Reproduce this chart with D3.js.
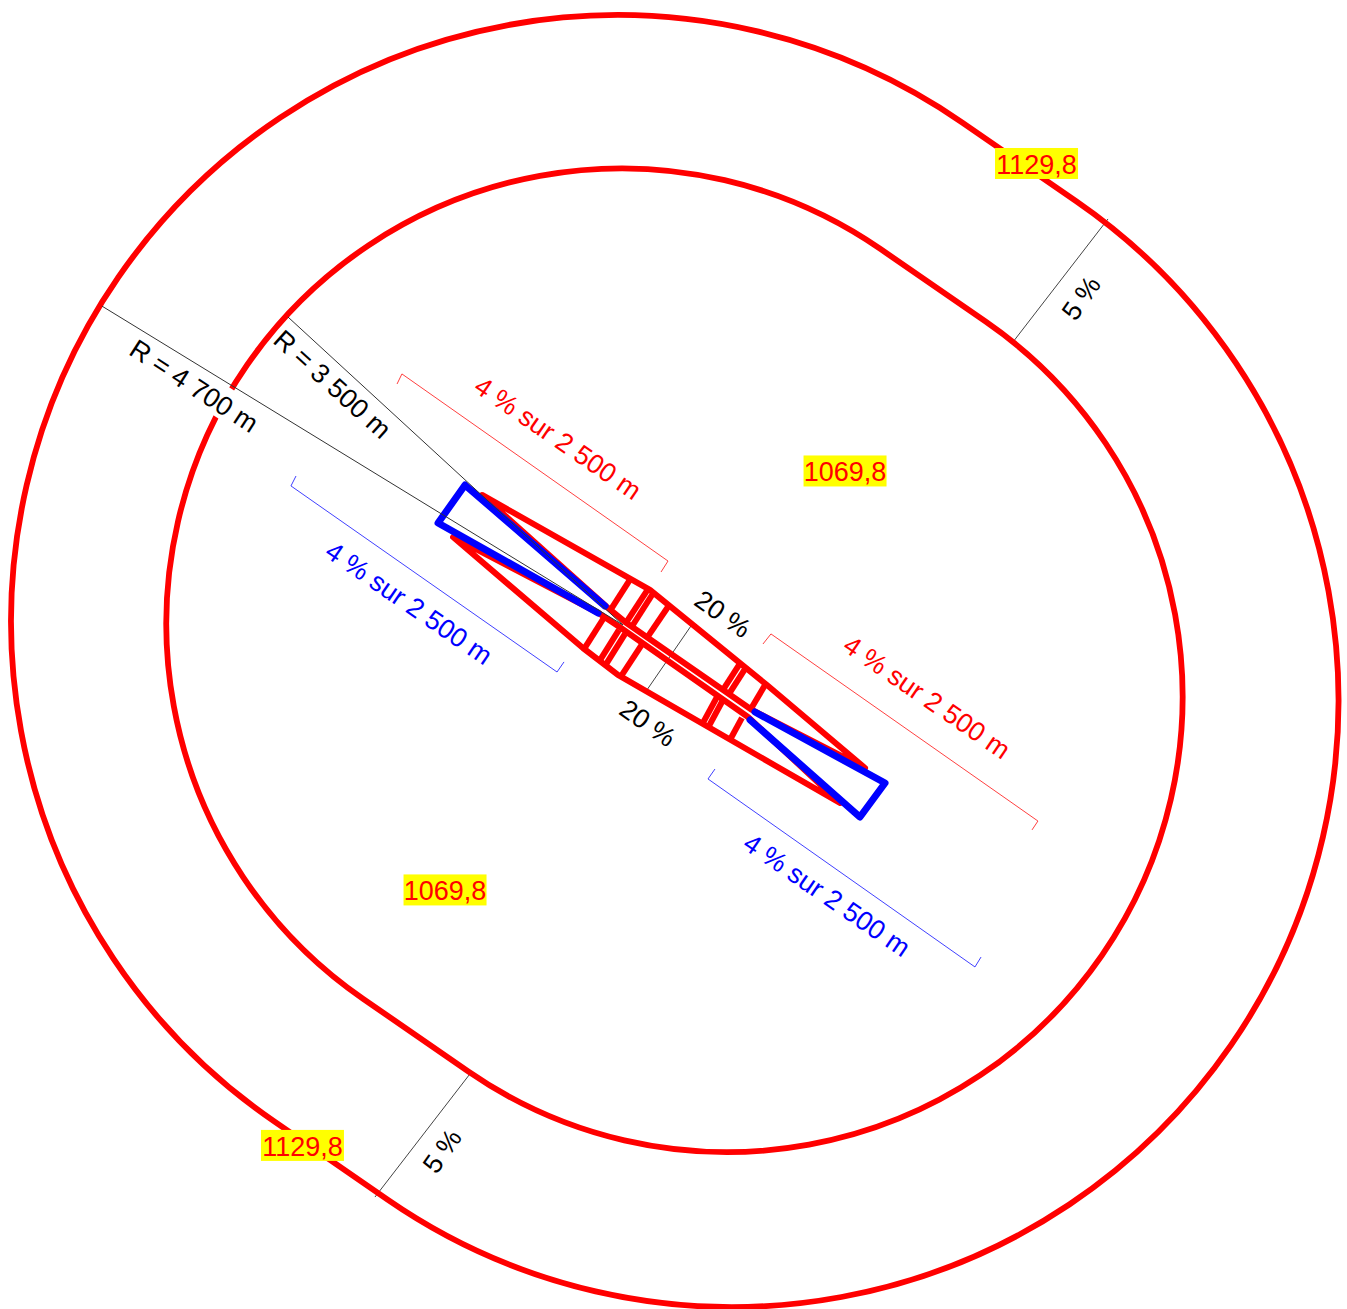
<!DOCTYPE html>
<html>
<head>
<meta charset="utf-8">
<script src="https://cdnjs.cloudflare.com/ajax/libs/d3/7.8.5/d3.min.js"></script>
<style>
html, body { margin: 0; padding: 0; background: #fff; }
svg { display: block; }
text { font-family: "Liberation Sans", Arial, sans-serif; }
</style>
</head>
<body>
<div id="chart"></div>
<script>
// everything is in plan metres, measured from the top left corner of the drawing
const radii = [4700, 3530];
const outerCentres = [[4786, 4817], [5673, 5429]];
const innerCentres = [[4820, 4836], [5634, 5398]];

const redUpper = [[3736, 3836], [5037, 4572], [5944, 5309], [6704, 5952], [5828, 5502], [4844, 4820], [4704, 4704]];
const redLower = [[3511, 4162], [4518, 5022], [4789, 5231], [6510, 6223], [5797, 5557], [4813, 4867], [4650, 4758]];
const redBars = [
    [[4890, 4480], [4727, 4735]],
    [[5022, 4565], [4851, 4828]],
    [[5068, 4588], [4890, 4867]],
    [[5192, 4681], [5014, 4944]],
    [[5743, 5130], [5603, 5347]],
    [[5789, 5161], [5650, 5378]],
    [[5929, 5309], [5828, 5479]],
    [[4689, 4774], [4526, 5030]],
    [[4797, 4882], [4642, 5130]],
    [[4844, 4913], [4689, 5161]],
    [[4983, 4983], [4805, 5254]],
    [[5561, 5394], [5452, 5595]],
    [[5603, 5425], [5495, 5626]],
    [[5750, 5564], [5657, 5735]]
];
const blueLeft = [[4689, 4697], [3604, 3759], [3395, 4053], [4635, 4751]];
const blueRight = [[5851, 5518], [6859, 6068], [6665, 6332], [5813, 5580]];

const radiusLines = [
    [[790, 2372], [4828, 4844]],
    [[2232, 2457], [4828, 4844]]
];
const slopeLines = [
    [[8587, 1697], [7851, 2650]],
    [[3642, 8323], [2906, 9277]],
    [[5371, 4828], [5014, 5347]]
];
const redBrackets = [
    [[3077, 2976], [3115, 2898], [5177, 4348], [5123, 4433]],
    [[5913, 4991], [5975, 4913], [8044, 6363], [7998, 6432]]
];
const blueBrackets = [
    [[2294, 3689], [2255, 3766], [4317, 5208], [4371, 5130]],
    [[5541, 5960], [5487, 6037], [7556, 7494], [7603, 7417]]
];

const levels = ["1129,8", "1129,8", "1069,8", "1069,8"];
const levelAt = [[8033, 1267], [2344, 8877], [6549, 3650], [3449, 6897]];

const slopeLabel = "4 % sur 2 500 m";
const redSlopeAt = [[4325, 3394, 34.5], [7184, 5402, 34.5]];
const blueSlopeAt = [[3170, 4673, 34.5], [6409, 6936, 34.5]];

const radiusLabels = ["R = 4 700 m", "R = 3 500 m"];
const radiusAt = [[1504, 2991, 33], [2577, 2976, 42]];
const blackLabels = ["5 %", "5 %", "20 %", "20 %"];
const blackAt = [
    [8378, 2309, -55],
    [3425, 8920, -55],
    [5603, 4758, 35],
    [5022, 5603, 35]
];

const W = 1347, H = 1309;
const x = d3.scaleLinear().domain([0, 10439.25]).range([0, W]);
const y = d3.scaleLinear().domain([0, 10144.75]).range([0, H]);
const line = d3.line().x(d => x(d[0])).y(d => y(d[1]));
const RED = "#ff0000", BLUE = "#0000ff";

const svg = d3.select("#chart").append("svg")
    .attr("width", W)
    .attr("height", H)
    .attr("viewBox", [0, 0, W, H]);

function place(at) {
    return "translate(" + x(at[0]) + "," + y(at[1]) + ") rotate(" + at[2] + ")";
}

// stadium shaped contour: two half circles joined by straight runs
function contour(r, centres) {
    const rPx = x(r) - x(0);
    const [a, b] = centres;
    const ang = Math.atan2(y(b[1]) - y(a[1]), x(b[0]) - x(a[0]));
    const p = d3.path();
    p.arc(x(a[0]), y(a[1]), rPx, ang + Math.PI / 2, ang - Math.PI / 2);
    p.arc(x(b[0]), y(b[1]), rPx, ang - Math.PI / 2, ang + Math.PI / 2);
    p.closePath();
    return p.toString();
}

svg.append("g").selectAll("path")
    .data(slopeLines)
    .enter().append("path")
    .attr("d", line)
    .attr("fill", "none")
    .attr("stroke", "#444")
    .attr("stroke-width", 1);

function brackets(data, colour) {
    svg.append("g").selectAll("path")
        .data(data)
        .enter().append("path")
        .attr("d", line)
        .attr("fill", "none")
        .attr("stroke", colour)
        .attr("stroke-opacity", 0.75)
        .attr("stroke-width", 1);
}
brackets(redBrackets, RED);
brackets(blueBrackets, BLUE);

svg.append("g").selectAll("path")
    .data(radii)
    .enter().append("path")
    .attr("d", (d, i) => contour(d, i === 0 ? outerCentres : innerCentres))
    .attr("fill", "none")
    .attr("stroke", RED)
    .attr("stroke-width", 5.8);

svg.append("g").selectAll("path")
    .data([redUpper, redLower])
    .enter().append("path")
    .attr("d", d => line(d) + "Z")
    .attr("fill", "none")
    .attr("stroke", RED)
    .attr("stroke-width", 6)
    .attr("stroke-linejoin", "round");

svg.append("g").selectAll("path")
    .data(redBars)
    .enter().append("path")
    .attr("d", line)
    .attr("stroke", RED)
    .attr("stroke-width", 6);

svg.append("g").selectAll("path")
    .data([blueLeft, blueRight])
    .enter().append("path")
    .attr("d", line)
    .attr("fill", "none")
    .attr("stroke", BLUE)
    .attr("stroke-width", 7)
    .attr("stroke-linejoin", "round")
    .attr("stroke-linecap", "round");

function labels(texts, at, colour) {
    return svg.append("g").selectAll("text")
        .data(texts)
        .enter().append("text")
        .attr("transform", (d, i) => place(at[i]))
        .attr("text-anchor", "middle")
        .attr("dy", "0.35em")
        .attr("font-size", 26.8)
        .attr("fill", colour)
        .text(d => d);
}

// the radius labels knock the contour out behind them, their lines stay on top
const radiusText = labels(radiusLabels, radiusAt, "#000");
radiusText.each(function(d, i) {
    const w = this.getComputedTextLength();
    svg.insert("rect", "g:last-of-type")
        .attr("transform", place(radiusAt[i]))
        .attr("x", -w / 2 - 1)
        .attr("y", -18)
        .attr("width", w + 2)
        .attr("height", 32)
        .attr("fill", "#fff");
});
svg.append("g").selectAll("path")
    .data(radiusLines)
    .enter().append("path")
    .attr("d", line)
    .attr("fill", "none")
    .attr("stroke", "#333")
    .attr("stroke-width", 1);

labels([slopeLabel, slopeLabel], redSlopeAt, RED);
labels([slopeLabel, slopeLabel], blueSlopeAt, BLUE);
labels(blackLabels, blackAt, "#000");

// heights sit on a yellow tag
const tags = svg.append("g").selectAll("g")
    .data(levels)
    .enter().append("g")
    .attr("transform", (d, i) => "translate(" + x(levelAt[i][0]) + "," + y(levelAt[i][1]) + ")");
tags.append("rect")
    .attr("x", -41.5)
    .attr("y", -15.5)
    .attr("width", 83)
    .attr("height", 31)
    .attr("fill", "#ffff00");
tags.append("text")
    .attr("text-anchor", "middle")
    .attr("dy", "0.39em")
    .attr("font-size", 27)
    .attr("fill", RED)
    .text(d => d);
</script>
</body>
</html>
